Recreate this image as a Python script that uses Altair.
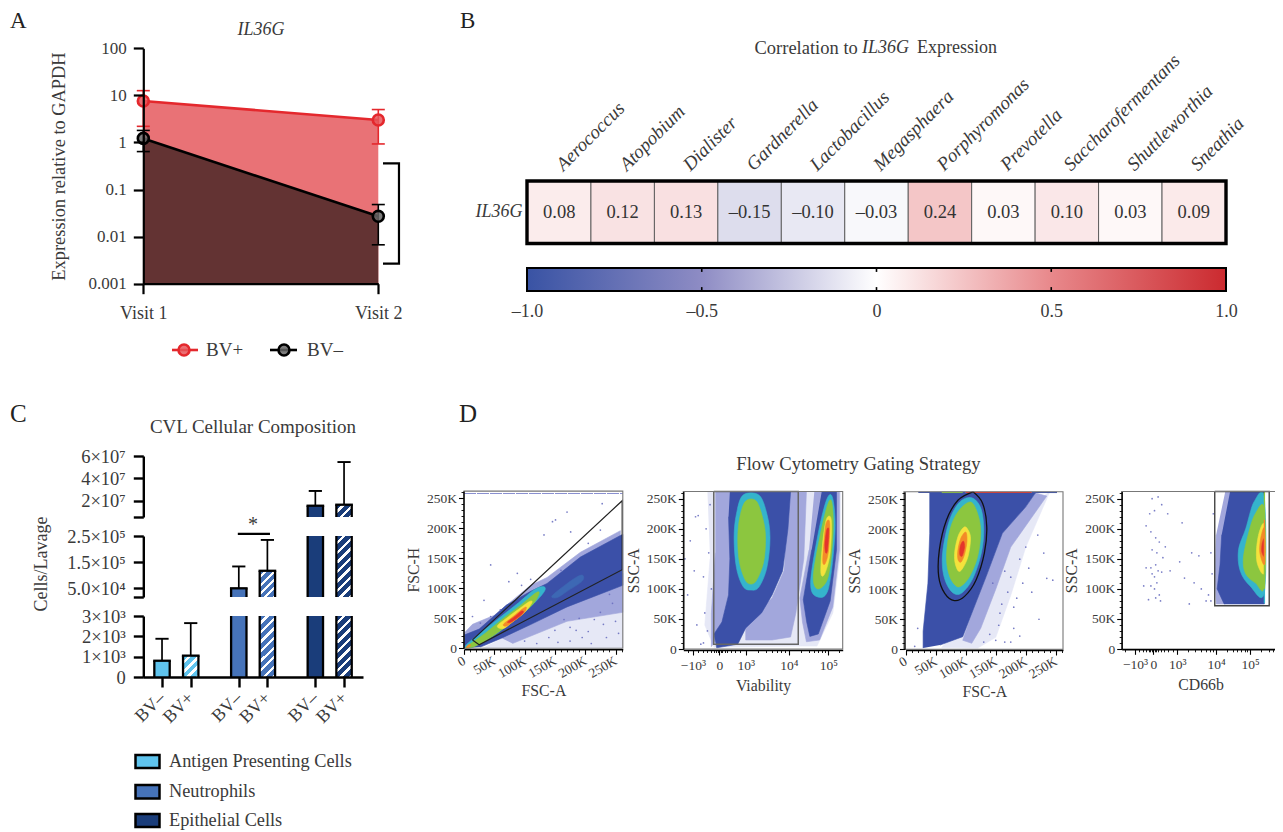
import altair as alt
import pandas as pd

# ---------- data ----------
W, H = 1267, 824
FONT = "Liberation Serif"
INK = "#3a3a3a"

visits = [1, 2]
bvp_mean = [7.6, 3.0]
bvp_hi = [12.6, 5.0]
bvp_lo = [2.2, 0.93]
bvn_mean = [1.22, 0.027]
bvn_hi = [1.8, 0.048]
bvn_lo = [0.64, 0.0067]
bracket_x = [2.02, 2.088, 2.088, 2.02]
bracket_y = [0.36, 0.36, 0.00266, 0.00266]

genera = ["Aerococcus", "Atopobium", "Dialister", "Gardnerella", "Lactobacillus", "Megasphaera",
          "Porphyromonas", "Prevotella", "Saccharofermentans", "Shuttleworthia", "Sneathia"]
correlations = [0.08, 0.12, 0.13, -0.15, -0.10, -0.03, 0.24, 0.03, 0.10, 0.03, 0.09]
ramp_values = [-1, -0.5, 0, 0.5, 1]
ramp_colors = ["#3953A4", "#8E8CC4", "#FFFFFF", "#E8888B", "#CB2A2F"]

bar_slots = [0, 1, 2.674, 3.67, 5.34, 6.34]
bar_names = ["BV–", "BV+", "BV–", "BV+", "BV–", "BV+"]
bar_values = [800, 1050, 5.0e4, 1.17e5, 1.55e7, 1.64e7]
bar_errors = [1880, 2650, 1.335e5, 2.35e5, 2.87e7, 5.46e7]
bar_colors = ["#5FC4EE", "#5FC4EE", "#4673B9", "#4673B9", "#1A3D7A", "#1A3D7A"]
legend_c = ["Antigen Presenting Cells", "Neutrophils", "Epithelial Cells"]
legend_c_colors = ["#5FC4EE", "#4673B9", "#1A3D7A"]

seg_bottom = {"dom": [0, 3e3], "rng": [677, 616], "vals": [0, 1e3, 2e3, 3e3], "labs": ["0", "1×10³", "2×10³", "3×10³"]}
seg_middle = {"dom": [1.67e4, 2.5e5], "rng": [597, 536], "vals": [1.67e4, 5e4, 1.5e5, 2.5e5], "labs": ["", "5.0×10⁴", "1.5×10⁵", "2.5×10⁵"]}
seg_top = {"dom": [5.4e6, 6e7], "rng": [517, 456], "vals": [5.4e6, 2e7, 4e7, 6e7], "labs": ["", "2×10⁷", "4×10⁷", "6×10⁷"]}

K_TICKS = [0, 50, 100, 150, 200, 250]
K_LABELS = ["0", "50K", "100K", "150K", "200K", "250K"]
K_MINOR = [10, 20, 30, 40, 60, 70, 80, 90, 110, 120, 130, 140, 160, 170, 180, 190, 210, 220, 230, 240, 260]
BLUE, MID, HALO, CYAN, GREEN, YELLOW, ORANGE, RED = "#3B50A8", "#A2A7DC", "#E6E8F6", "#35B4CC", "#8CC63F", "#F4E23C", "#F38A28", "#E4352B"

# panel 1 (FSC-A, FSC-H), thousands
p1_polys = [
    (HALO, [(30, 0), (262, 0), (262, 125), (120, 45), (60, 15)]),
    (MID, [(80, 8), (170, 45), (262, 60), (262, 125), (120, 50), (60, 18)]),
    (MID, [(0, 18), (0, 25), (14, 40), (50, 55), (110, 105), (137, 118), (192, 160), (258, 196), (258, 180), (137, 100), (70, 65), (25, 28)]),
    (BLUE, [(0, 0), (0, 22), (25, 32), (70, 72), (110, 95), (137, 108), (192, 152), (258, 188), (262, 190), (262, 105), (170, 69), (115, 42), (60, 16), (27, 2)]),
    ("#3D68B4", [(145, 85), (150, 92), (180, 115), (195, 122), (195, 112), (170, 95), (155, 85)]),
    (CYAN, [(2, 4), (30, 28), (60, 52), (90, 76), (115, 97), (130, 103), (134, 98), (125, 85), (105, 65), (80, 45), (50, 22), (20, 5), (8, 0)]),
    (GREEN, [(5, 3), (35, 25), (65, 50), (95, 73), (118, 92), (124, 92), (115, 75), (90, 52), (65, 33), (35, 12), (12, 1)]),
    (YELLOW, [(55, 37), (70, 50), (90, 65), (108, 78), (112, 76), (100, 60), (80, 44), (65, 33)]),
    (ORANGE, [(65, 40), (80, 52), (97, 66), (103, 68), (98, 58), (80, 44), (70, 37)]),
    (RED, [(72, 44), (85, 54), (95, 62), (98, 60), (90, 52), (78, 44)]),
    (ORANGE, [(3, 1), (8, 6), (11, 5), (7, 1)]),
]
p1_gate = [(14, 14), (261, 246), (261, 131), (25, 6), (14, 14)]
p1_dots = [(44, 139), (146, 211), (151, 214), (170, 227), (228, 241), (132, 189), (176, 194), (74, 111), (88, 125),
           (33, 80), (60, 64), (14, 53), (27, 42), (44, 53), (225, 197), (160, 130), (205, 175), (110, 115), (95, 105),
           (150, 30), (175, 12), (205, 28), (235, 18), (250, 45), (190, 50), (165, 48), (225, 60), (140, 18), (120, 8),
           (245, 75), (210, 8), (185, 30), (255, 25), (100, 12), (155, 10), (230, 40), (195, 18), (215, 48), (240, 90), (175, 35)]

# panel 2 (Viability, SSC-A)
p2_polys = [
    (HALO, [(-0.45, 262), (4.6, 262), (4.6, 165), (4.3, 60), (3.7, 5), (3.2, 5), (-0.2, 3), (-0.55, 40), (-0.35, 150)]),
    (MID, [(-0.15, 262), (0.45, 262), (0.45, 120), (0.3, 50), (0.1, 30), (-0.3, 4), (-0.3, 60), (-0.15, 160)]),
    (MID, [(2.6, 262), (3.3, 262), (3.2, 150), (2.9, 60), (2.7, 20), (2.0, 15), (1.0, 15), (1.0, 40), (2.0, 85), (2.45, 130)]),
    (MID, [(3.6, 262), (4.55, 262), (4.55, 165), (4.3, 70), (3.8, 15), (3.3, 12), (3.15, 45), (3.05, 85), (3.4, 165)]),
    (BLUE, [(0.4, 262), (2.7, 262), (2.6, 200), (2.4, 130), (2.0, 90), (1.6, 60), (1.0, 35), (0.7, 8), (-0.1, 2), (-0.2, 25), (0.1, 45), (0.35, 90), (0.4, 150), (0.35, 220)]),
    (BLUE, [(3.88, 262), (4.44, 262), (4.44, 165), (4.2, 80), (3.75, 25), (3.43, 21), (3.31, 45), (3.18, 82), (3.5, 165)]),
    (CYAN, [(0.9, 256), (1.5, 256), (1.8, 225), (1.92, 185), (1.8, 135), (1.5, 103), (1.2, 98), (0.9, 104), (0.65, 135), (0.56, 185), (0.65, 225)]),
    (GREEN, [(1.0, 246), (1.4, 246), (1.66, 215), (1.75, 185), (1.68, 145), (1.42, 115), (1.2, 108), (0.98, 115), (0.76, 145), (0.7, 185), (0.78, 220)]),
    (CYAN, [(4.08, 250), (4.3, 250), (4.38, 193), (4.13, 100), (3.7, 87), (3.46, 110), (3.75, 193)]),
    (GREEN, [(4.12, 242), (4.27, 242), (4.31, 193), (4.13, 121), (3.75, 100), (3.56, 121), (3.84, 193)]),
    (YELLOW, [(4.05, 215), (4.24, 215), (4.2, 160), (4.0, 126), (3.85, 126), (3.9, 170)]),
    (ORANGE, [(4.05, 210), (4.18, 210), (4.14, 165), (4.02, 143), (3.92, 145), (3.97, 180)]),
    (RED, [(4.07, 198), (4.15, 198), (4.1, 165), (4.03, 160), (4.0, 175)]),
]
p2_gate = [(-0.21, 262), (-0.21, 8), (2.99, 8), (2.99, 262), (-0.21, 262)]
p2_dots = [(-0.9, 220), (-0.8, 222), (-0.6, 120), (-1.2, 90), (-0.85, 40), (-0.4, 160), (-0.55, 60), (-0.45, 30), (-0.7, 8),
           (-1.1, 180), (-0.5, 200), (-0.35, 240), (-0.3, 100), (-1.3, 150), (-0.95, 130), (-0.6, 10)]

# panel 3 (FSC-A, SSC-A)
p3_polys = [
    (HALO, [(240, 262), (200, 170), (175, 90), (150, 20), (120, 2), (60, 3), (112, 65), (134, 121), (161, 193), (200, 237)]),
    (MID, [(216, 260), (235, 255), (175, 170), (150, 100), (125, 35), (110, 10), (95, 15), (112, 65), (134, 121), (161, 193), (200, 237)]),
    (BLUE, [(29, 2), (29, 30), (37, 110), (40, 193), (40, 260), (216, 260), (200, 237), (161, 193), (134, 121), (112, 65), (95, 21), (57, 7)]),
    (CYAN, [(110, 252), (125, 235), (130, 200), (126, 160), (112, 118), (95, 95), (82, 92), (70, 105), (62, 130), (62, 165), (73, 215), (90, 245)]),
    (GREEN, [(108, 245), (120, 225), (125, 195), (120, 155), (107, 122), (92, 105), (82, 107), (72, 125), (68, 155), (74, 200), (88, 230)]),
    (YELLOW, [(103, 200), (108, 185), (104, 155), (95, 135), (88, 130), (82, 145), (82, 165), (88, 190), (97, 203)]),
    (ORANGE, [(100, 195), (102, 180), (98, 158), (92, 145), (87, 150), (87, 165), (92, 185)]),
    (RED, [(96, 180), (98, 170), (94, 155), (90, 158), (91, 172)]),
]
p3_gate = [(112, 262), (128, 243), (135, 204), (131, 160), (117, 115), (98, 88), (81, 81), (65, 93), (55, 121), (56, 165), (68, 215), (87, 248), (112, 262)]
p3_dots = [(190, 150), (175, 120), (165, 130), (200, 170), (220, 190), (157, 60), (170, 95), (185, 85), (155, 40), (150, 15),
           (165, 12), (175, 12), (190, 22), (230, 160), (235, 118), (222, 50), (180, 35), (160, 75), (205, 135), (145, 110),
           (195, 110), (140, 25), (180, 70), (210, 95), (130, 12), (20, 35), (15, 5), (245, 115)]
p3_top = [(21, 100, BLUE), (60, 95, GREEN), (100, 210, RED), (210, 252, BLUE)]

# panel 4 (CD66b, SSC-A)
p4_polys = [
    (MID, [(3.0, 262), (3.3, 262), (2.9, 190), (2.82, 140), (2.7, 100), (3.0, 75), (2.62, 75), (2.58, 130), (2.62, 190)]),
    (BLUE, [(3.2, 262), (4.63, 262), (4.63, 75), (2.95, 75), (2.66, 100), (2.78, 140), (2.85, 190)]),
    (CYAN, [(4.63, 250), (4.2, 245), (3.85, 200), (3.55, 165), (3.62, 130), (4.03, 105), (4.63, 95)]),
    (GREEN, [(4.63, 232), (4.25, 225), (3.95, 190), (3.75, 150), (3.85, 125), (4.25, 110), (4.63, 105)]),
    (YELLOW, [(4.63, 205), (4.42, 195), (4.3, 165), (4.35, 140), (4.63, 128)]),
    (ORANGE, [(4.63, 200), (4.48, 185), (4.44, 160), (4.63, 142)]),
    (RED, [(4.63, 183), (4.54, 176), (4.52, 162), (4.63, 155)]),
]
p4_gate = [(2.56, 262), (4.83, 262), (4.83, 72), (2.56, 72), (2.56, 262)]
p4_edge = [(262, 215, GREEN), (215, 140, ORANGE), (140, 100, GREEN), (100, 76, CYAN)]
p4_dots = [(-0.05, 250), (0.2, 253), (0.35, 240), (-0.15, 225), (0.05, 230), (-0.3, 205), (-0.1, 195), (0.1, 185), (0.25, 178),
           (0.5, 170), (-0.05, 165), (0.15, 160), (0.4, 152), (0.1, 140), (-0.1, 135), (0.2, 130), (0.35, 128), (-0.3, 135),
           (-0.05, 125), (0.05, 120), (0.15, 110), (-0.1, 105), (0.05, 100), (0.25, 90), (-0.2, 82), (0.1, 85), (-0.4, 105),
           (0.3, 80), (0.7, 130), (1.3, 118), (1.6, 160), (1.9, 155), (1.5, 75), (2.0, 100), (2.3, 90), (2.45, 125), (2.4, 160),
           (2.5, 225), (0.6, 225), (1.2, 210), (1.7, 110), (1.1, 145), (2.2, 80), (2.4, 80)]

BIEX_TICKS_2 = [-1, 0, 1, 2.63, 4.13]
BIEX_TICKS_4 = [-0.76, 0, 1, 2.62, 4.03]
BIEX_LABELS = ["−10³", "0", "10³", "10⁴", "10⁵"]
BIEX_MINOR_2 = [-1.2, -0.8, -0.6, -0.45, -0.3, -0.2, -0.12, -0.06, 0.06, 0.12, 0.2, 0.3, 0.45, 0.6, 0.8, 1.45, 1.75, 2.0, 2.2, 2.35, 2.5, 3.1, 3.4, 3.6, 3.75, 3.9, 4.0, 4.55]
BIEX_MINOR_4 = [-1.2, -0.6, -0.45, -0.3, -0.2, -0.12, -0.06, 0.06, 0.12, 0.2, 0.3, 0.45, 0.6, 0.8, 1.45, 1.75, 2.0, 2.2, 2.35, 2.5, 3.05, 3.3, 3.5, 3.65, 3.8, 3.9, 4.5, 4.8, 5.0, 5.1]

# ---------- helpers ----------
layers = []


def lin(dom, a, b, **kw):
    return alt.Scale(domain=dom, range=[a - 8, b - 8], nice=False, zero=False, **kw)


def lab(values, labels):
    vs = ",".join(str(v) for v in values)
    ls = ",".join("'" + s + "'" for s in labels)
    return f"[{ls}][indexof([{vs}],datum.value)]"


BASE = dict(grid=False, labelFont=FONT, titleFont=FONT, labelColor=INK, titleColor=INK, labelOverlap=False,
            labelFlush=False, domainColor="#000", tickColor="#000", zindex=1, titleFontWeight="normal")


def left(x, values, names=None, **kw):
    d = dict(BASE, orient="left", offset=-(x - 8), values=values, title=None)
    if names:
        d["labelExpr"] = lab(values, names)
    d.update(kw)
    return alt.Axis(**d)


def bottom(y, values, names=None, **kw):
    d = dict(BASE, orient="bottom", offset=(y - 8) - H, values=values, title=None)
    if names:
        d["labelExpr"] = lab(values, names)
    d.update(kw)
    return alt.Axis(**d)


def X(f, s, axis=None):
    return alt.X(f"{f}:Q", scale=s, axis=axis)


def Y(f, s, axis=None):
    return alt.Y(f"{f}:Q", scale=s, axis=axis)


def txt(s, x, y, size=18, italic=False, angle=0, align="center", color=INK):
    kw = dict(font=FONT, fontSize=size, align=align, baseline="middle", color=color, angle=angle)
    if italic:
        kw["fontStyle"] = "italic"
    layers.append(alt.Chart(pd.DataFrame({"t": [s]})).mark_text(**kw).encode(
        x=alt.value(x - 8), y=alt.value(y - 8), text="t:N"))


def fixed_rule(x1, x2, y1, y2, color, w):
    layers.append(alt.Chart(pd.DataFrame({"a": [0]})).mark_rule(color=color, strokeWidth=w).encode(
        x=alt.value(x1 - 8), x2=alt.value(x2 - 8), y=alt.value(y1 - 8), y2=alt.value(y2 - 8)))


def fixed_rect(x1, x2, y1, y2, fill, stroke="#000", w=2.5):
    layers.append(alt.Chart(pd.DataFrame({"a": [0]})).mark_rect(fill=fill, stroke=stroke, strokeWidth=w).encode(
        x=alt.value(x1 - 8), x2=alt.value(x2 - 8), y=alt.value(y1 - 8), y2=alt.value(y2 - 8)))


def fixed_point(x, y, fill, stroke):
    layers.append(alt.Chart(pd.DataFrame({"a": [0]})).mark_point(
        filled=True, fill=fill, stroke=stroke, strokeWidth=2.6, size=120, opacity=1, fillOpacity=0.85).encode(
        x=alt.value(x - 8), y=alt.value(y - 8)))


# ---------- panel letters ----------
for s, x, y, z in [("A", 10, 20.5, 23), ("B", 460, 20.5, 23), ("C", 10, 414, 25), ("D", 459, 414, 25)]:
    txt(s, x, y, size=z, align="left", color="#222")

# ---------- panel A ----------
ax = lin([1, 2], 143.3, 378.3)
ay = alt.Scale(type="log", domain=[0.001, 100], range=[283.7 - 8, 48.3 - 8], nice=False)
dfa = pd.DataFrame({"x": visits, "p": bvp_mean, "ph": bvp_hi, "pl": bvp_lo, "n": bvn_mean, "nh": bvn_hi, "nl": bvn_lo,
                    "base": [0.001, 0.001], "cl": [v - 0.0277 for v in visits], "cr": [v + 0.0277 for v in visits]})
ya_vals = [0.001, 0.01, 0.1, 1, 10, 100]
layers.append(alt.Chart(dfa).mark_area(color="#E97276", opacity=1).encode(
    x=X("x", ax, bottom(283.7, visits, ["Visit 1", "Visit 2"], domainWidth=2.2, tickWidth=2.2, tickSize=10, labelFontSize=18, labelPadding=11)),
    y=Y("p", ay, left(143.3, ya_vals, ["0.001", "0.01", "0.1", "1", "10", "100"], domainWidth=2.2, tickWidth=2.2, tickSize=10,
                      labelFontSize=17, labelPadding=7, title="Expression relative to GAPDH", titleFontSize=18.4, titlePadding=20)),
    y2=alt.Y2("base:Q")))
layers.append(alt.Chart(dfa).mark_area(color="#633333", opacity=1).encode(x=X("x", ax), y=Y("n", ay), y2=alt.Y2("base:Q")))
for m, h, l, c, f in [("p", "ph", "pl", "#E4282D", "#E8565A"), ("n", "nh", "nl", "#000000", "#666666")]:
    layers.append(alt.Chart(dfa).mark_line(color=c, strokeWidth=2.6).encode(x=X("x", ax), y=Y(m, ay)))
    layers.append(alt.Chart(dfa).mark_rule(color=c, strokeWidth=1.6).encode(x=X("x", ax), y=Y(h, ay), y2=alt.Y2(f"{l}:Q")))
    for e in (h, l):
        layers.append(alt.Chart(dfa).mark_rule(color=c, strokeWidth=1.6).encode(x=X("cl", ax), x2=alt.X2("cr:Q"), y=Y(e, ay)))
    layers.append(alt.Chart(dfa).mark_point(filled=True, fill=f, stroke=c, strokeWidth=2.6, size=120, opacity=1, fillOpacity=0.85).encode(
        x=X("x", ax), y=Y(m, ay)))
layers.append(alt.Chart(pd.DataFrame({"x": bracket_x, "y": bracket_y, "i": range(4)})).mark_line(color="#000", strokeWidth=2.2).encode(
    x=X("x", ax), y=Y("y", ay), order="i:Q"))
txt("IL36G", 261, 30, size=18, italic=True)
fixed_rule(172, 198, 350, 350, "#E4282D", 2.6)
fixed_point(184, 350, "#E8565A", "#E4282D")
txt("BV+", 206, 350, size=19, align="left")
fixed_rule(270, 297, 350, 350, "#000", 2.6)
fixed_point(284, 350, "#666666", "#000")
txt("BV–", 307, 350, size=19, align="left")

# ---------- panel B ----------
bx = alt.Scale(domain=genera, range=[527.5 - 8, 1225.5 - 8], paddingInner=0, paddingOuter=0)
by = alt.Scale(domain=["IL36G"], range=[243 - 8, 181 - 8], paddingInner=0, paddingOuter=0)
cs = alt.Scale(domain=ramp_values, range=ramp_colors, interpolate="rgb")
dfb = pd.DataFrame({"g": genera, "r": correlations, "row": ["IL36G"] * len(genera),
                    "t": [f"{v:.2f}".replace("-", "–") for v in correlations]})
top_axis = alt.Axis(**dict(BASE, orient="top", offset=-(181 - 8), title=None, labelAngle=-45, labelAlign="left", labelBaseline="middle",
                           labelFontStyle="italic", labelFontSize=19, domain=False, ticks=False, labelPadding=14))
left_b = alt.Axis(**dict(BASE, orient="left", offset=-(527 - 8), title=None, labelFontStyle="italic", labelFontSize=18, domain=False, ticks=False, labelPadding=5))
layers.append(alt.Chart(dfb).mark_rect(stroke="#555", strokeWidth=0.9).encode(
    x=alt.X("g:N", scale=bx, axis=top_axis, sort=genera), y=alt.Y("row:N", scale=by, axis=left_b),
    color=alt.Color("r:Q", scale=cs, legend=None)))
layers.append(alt.Chart(dfb).mark_text(font=FONT, fontSize=18.5, color="#333").encode(
    x=alt.X("g:N", scale=bx, axis=None, sort=genera), y=alt.Y("row:N", scale=by, axis=None), text="t:N"))
fixed_rect(527, 1226, 181, 243.5, "transparent", "#000", 3.4)
txt("Correlation to", 754.5, 48, size=18.5, align="left")
txt("IL36G", 862, 48, size=18, italic=True, align="left")
txt("Expression", 917, 48, size=18, align="left")

cbx = lin([-1, 1], 527, 1226)
cby = lin([0, 1], 291, 268)
grad = {"gradient": "linear", "x1": 0, "x2": 1, "y1": 0, "y2": 0,
        "stops": [{"offset": (v + 1) / 2, "color": c} for v, c in zip(ramp_values, ramp_colors)]}
cb_vals = [-1, -0.5, 0, 0.5, 1]
layers.append(alt.Chart(pd.DataFrame({"x": [-1], "x2": [1], "y": [0], "y2": [1]})).mark_rect(fill=grad, stroke="#000", strokeWidth=2).encode(
    x=X("x", cbx, bottom(291, cb_vals, ["–1.0", "–0.5", "0", "0.5", "1.0"], domain=False, ticks=False, labelFontSize=18, labelPadding=11)),
    x2=alt.X2("x2:Q"), y=Y("y", cby), y2=alt.Y2("y2:Q")))
for a, b in [(0, 0.17), (0.83, 1)]:
    layers.append(alt.Chart(pd.DataFrame({"x": [-0.5, 0, 0.5], "y": [a] * 3, "y2": [b] * 3})).mark_rule(color="#000", strokeWidth=1.6).encode(
        x=X("x", cbx), y=Y("y", cby), y2=alt.Y2("y2:Q")))

# ---------- panel C ----------
SLOT = 28.7
cx = lin([-0.652, 7.0], 143.3, 363)
half = 0.268


def stripes(color, w, h, period=6.4, white=0.36):
    r = w / h
    b = (r + 1) / (r * r + 1)
    a = r * b
    n = max(1, round((w + h) / 2 ** 0.5 / period))
    stops = []
    for i in range(n):
        s = i / n
        m = (i + 1 - white) / n
        e = (i + 1) / n
        stops += [{"offset": s, "color": color}, {"offset": m, "color": color}, {"offset": m, "color": "#ffffff"}, {"offset": e, "color": "#ffffff"}]
    return {"gradient": "linear", "x1": 0, "y1": 0, "x2": a, "y2": b, "stops": stops}


for seg_i, seg in enumerate([seg_bottom, seg_middle, seg_top]):
    ys = lin(seg["dom"], seg["rng"][0], seg["rng"][1])
    lo, hi = seg["dom"]
    pxh = abs(seg["rng"][0] - seg["rng"][1])
    layers.append(alt.Chart(pd.DataFrame({"x": [0], "y": [lo]})).mark_point(opacity=0).encode(
        x=X("x", cx), y=Y("y", ys, left(143.3, seg["vals"], seg["labs"], domainWidth=2.4, tickWidth=2.4, tickSize=10, labelFontSize=18.5, labelPadding=8))))
    for slot, val, err, col, name in zip(bar_slots, bar_values, bar_errors, bar_colors, bar_names):
        if val < lo:
            continue
        top = min(val, hi)
        h = (top - lo) / (hi - lo) * pxh
        fill = stripes(col, 2 * half * SLOT, h) if name == "BV+" else col
        row = pd.DataFrame({"x": [slot - half], "x2": [slot + half], "y": [lo], "y2": [top], "m": [slot]})
        layers.append(alt.Chart(row).mark_rect(fill=fill, strokeWidth=0).encode(
            x=X("x", cx), x2=alt.X2("x2:Q"), y=Y("y", ys), y2=alt.Y2("y2:Q")))
        for f in ("x", "x2"):
            layers.append(alt.Chart(row).mark_rule(color="#000", strokeWidth=2.3).encode(x=X(f, cx), y=Y("y", ys), y2=alt.Y2("y2:Q")))
        if val <= hi:
            cap = pd.DataFrame({"x": [slot - half - 0.04], "x2": [slot + half + 0.04], "y": [val]})
            layers.append(alt.Chart(cap).mark_rule(color="#000", strokeWidth=2.3).encode(x=X("x", cx), x2=alt.X2("x2:Q"), y=Y("y", ys)))
            eb = pd.DataFrame({"x": [slot], "y": [val], "y2": [err], "l": [slot - 0.23], "r": [slot + 0.23]})
            layers.append(alt.Chart(eb).mark_rule(color="#000", strokeWidth=1.7).encode(x=X("x", cx), y=Y("y", ys), y2=alt.Y2("y2:Q")))
            layers.append(alt.Chart(eb).mark_rule(color="#000", strokeWidth=1.9).encode(x=X("l", cx), x2=alt.X2("r:Q"), y=Y("y2", ys)))

layers.append(alt.Chart(pd.DataFrame({"x": [0], "y": [0]})).mark_point(opacity=0).encode(
    x=X("x", cx, bottom(677, bar_slots, bar_names, domainWidth=2.4, tickWidth=2.4, tickSize=10, labelFontSize=18, labelPadding=8,
                        labelAngle=-45, labelAlign="right", labelBaseline="middle")),
    y=alt.value(600)))
mid = lin(seg_middle["dom"], seg_middle["rng"][0], seg_middle["rng"][1])
layers.append(alt.Chart(pd.DataFrame({"x": [2.64], "x2": [3.76], "y": [2.58e5]})).mark_rule(color="#000", strokeWidth=2.4).encode(
    x=X("x", cx), x2=alt.X2("x2:Q"), y=Y("y", mid)))
txt("*", 253, 525, size=20)
txt("Cells/Lavage", 42, 564, size=18, angle=270)
txt("CVL Cellular Composition", 253, 427, size=19)
for name, col, (t, b) in zip(legend_c, legend_c_colors, [(755, 768), (785, 798.5), (814, 827)]):
    fixed_rect(135.5, 159.5, t, b, col)
    txt(name, 169, (t + b) / 2, size=18.3, align="left")

# ---------- panel D ----------
txt("Flow Cytometry Gating Strategy", 858.5, 464, size=18.6)


def poly(pts, color, xs, ys):
    d = pd.DataFrame({"x": [p[0] for p in pts], "y": [p[1] for p in pts], "i": range(len(pts))})
    interp = "linear" if color in (BLUE, MID, HALO) else "cardinal-closed"
    layers.append(alt.Chart(d).mark_line(fill=color, stroke=color, strokeWidth=0.6, interpolate=interp).encode(
        x=X("x", xs), y=Y("y", ys), order="i:Q"))


def gate(pts, xs, ys, color="#222", w=1.2, interp="linear"):
    d = pd.DataFrame({"x": [p[0] for p in pts], "y": [p[1] for p in pts], "i": range(len(pts))})
    layers.append(alt.Chart(d).mark_line(color=color, strokeWidth=w, interpolate=interp).encode(
        x=X("x", xs), y=Y("y", ys), order="i:Q"))


def dots(pts, xs, ys):
    d = pd.DataFrame({"x": [p[0] for p in pts], "y": [p[1] for p in pts]})
    layers.append(alt.Chart(d).mark_point(filled=True, color="#6A70C0", size=3, opacity=0.9).encode(x=X("x", xs), y=Y("y", ys)))


def frame_axes(xs, ys, xdom, ydom, xv, xl, xmin, xang, yaxis_x, xaxis_y, xtitle, ytitle, titlepad):
    d = pd.DataFrame({"x": [xdom[0]], "x2": [xdom[1]], "y": [ydom[0]], "y2": [ydom[1]]})
    xk = dict(domainWidth=1.4, tickWidth=1.1, tickSize=5, labelFontSize=13.5, labelPadding=3, title=xtitle, titleFontSize=15.8, titlePadding=titlepad)
    if xang:
        xk.update(labelAngle=xang, labelAlign="right", labelBaseline="middle", labelPadding=5)
    layers.append(alt.Chart(d).mark_rect(fill="transparent", stroke="#777", strokeWidth=1.1).encode(
        x=X("x", xs, bottom(xaxis_y, xv, xl, **xk)), x2=alt.X2("x2:Q"),
        y=Y("y", ys, left(yaxis_x, K_TICKS, K_LABELS, domainWidth=1.4, tickWidth=1.1, tickSize=5, labelFontSize=13.5, labelPadding=2,
                          title=ytitle, titleFontSize=15.8, titlePadding=5)),
        y2=alt.Y2("y2:Q")))
    layers.append(alt.Chart(d).mark_point(opacity=0).encode(
        x=X("x", xs, bottom(xaxis_y, xmin, labels=False, domain=False, tickSize=2.5, tickWidth=0.9)),
        y=Y("y", ys, left(yaxis_x, K_MINOR, labels=False, domain=False, tickSize=2.5, tickWidth=0.9))))


# panel 1
xs, ys = lin([0, 262], 464, 622.8), lin([0, 262], 648.3, 491.1)
for c, pts in p1_polys:
    poly(pts, c, xs, ys)
dots(p1_dots, xs, ys)
layers.append(alt.Chart(pd.DataFrame({"x": [0], "x2": [262], "y": [258]})).mark_rule(color="#8A90D0", strokeWidth=1.2, strokeDash=[12, 1]).encode(
    x=X("x", xs), x2=alt.X2("x2:Q"), y=Y("y", ys)))
gate(p1_gate, xs, ys)
frame_axes(xs, ys, [0, 262], [0, 262], K_TICKS, K_LABELS, K_MINOR, -30, 463.5, 649.3, "FSC-A", "FSC-H", 4)

# panel 2
xs, ys = lin([-1.364, 4.674], 683.3, 842.7), lin([0, 262], 649, 491.5)
for c, pts in p2_polys:
    poly(pts, c, xs, ys)
dots(p2_dots, xs, ys)
gate(p2_gate, xs, ys, "#666", 1.5)
frame_axes(xs, ys, [-1.364, 4.674], [0, 262], BIEX_TICKS_2, BIEX_LABELS, BIEX_MINOR_2, 0, 683.3, 650, "Viability", "SSC-A", 7)

# panel 3
xs, ys = lin([0, 262], 905.7, 1063), lin([0, 262], 649.3, 491.8)
for c, pts in p3_polys:
    poly(pts, c, xs, ys)
dots(p3_dots, xs, ys)
for a, b, c in p3_top:
    layers.append(alt.Chart(pd.DataFrame({"x": [a], "x2": [b], "y": [261]})).mark_rule(color=c, strokeWidth=1.3).encode(
        x=X("x", xs), x2=alt.X2("x2:Q"), y=Y("y", ys)))
gate(p3_gate, xs, ys, "#111", 1.3, "cardinal")
frame_axes(xs, ys, [-3, 262], [0, 262], K_TICKS, K_LABELS, K_MINOR, -30, 904.5, 650, "FSC-A", "SSC-A", 4)

# panel 4
xs, ys = lin([-1.317, 5.25], 1121.7, 1279.3), lin([0, 262], 649, 491.5)
for c, pts in p4_polys:
    poly(pts, c, xs, ys)
dots(p4_dots, xs, ys)
for a, b, c in p4_edge:
    layers.append(alt.Chart(pd.DataFrame({"x": [4.63], "y": [a], "y2": [b]})).mark_rule(color=c, strokeWidth=1.3).encode(
        x=X("x", xs), y=Y("y", ys), y2=alt.Y2("y2:Q")))
gate(p4_gate, xs, ys, "#444", 1.4)
frame_axes(xs, ys, [-1.317, 5.25], [0, 262], BIEX_TICKS_4, BIEX_LABELS, BIEX_MINOR_4, 0, 1121.7, 649.3, "CD66b", "SSC-A", 7)

# ---------- assemble ----------
chart = alt.layer(*layers).resolve_scale(x="independent", y="independent", color="independent").properties(
    width=W, height=H, autosize=alt.AutoSizeParams(type="none"), padding=0, background="white"
).configure_view(stroke=None)
chart.save("out.html", embed_options={"renderer": "svg", "actions": False})
